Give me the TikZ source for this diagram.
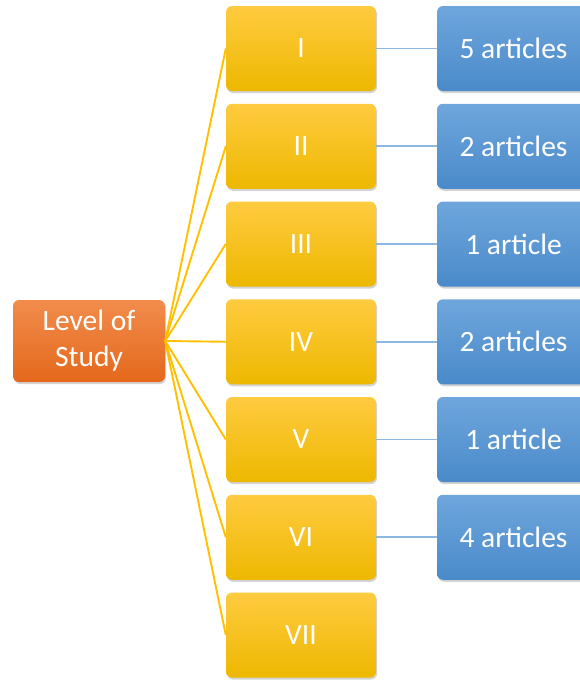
\documentclass[tikz,border=0pt]{standalone}
\usepackage{fontspec}
\setmainfont{Carlito}
\usetikzlibrary{shadows}
\definecolor{rootTop}{HTML}{F28C4C}
\definecolor{rootBot}{HTML}{E4681C}
\definecolor{lvlTop}{HTML}{FFCB40}
\definecolor{lvlBot}{HTML}{EDB800}
\definecolor{lvlLine}{HTML}{FFC000}
\definecolor{cntTop}{HTML}{6EA6DC}
\definecolor{cntBot}{HTML}{4A8ACA}
\definecolor{cntLine}{HTML}{8DB8E2}
\tikzset{
  box/.style={rounded corners=6pt, minimum width=150pt, minimum height=85pt, inner sep=0pt,
    text=white, align=center, font=\fontsize{29.5}{36}\selectfont,
    drop shadow={shadow xshift=1pt, shadow yshift=-2pt, opacity=0.35}},
  rootbox/.style={box, top color=rootTop, bottom color=rootBot, minimum width=152pt, minimum height=82pt},
  lvlbox/.style={box, top color=lvlTop, bottom color=lvlBot},
  cntbox/.style={box, top color=cntTop, bottom color=cntBot, minimum width=153pt},
  branch/.style={draw=lvlLine, line width=1.9pt},
  link/.style={draw=cntLine, line width=1.9pt}
}
\begin{document}
\begin{tikzpicture}[x=1pt, y=-1pt]
        \path[use as bounding box, clip] (0,0) rectangle (580,680);
        \node[rootbox] (root) at (89, 341) {Level of\\Study};

        \foreach \lvl [count=\i from 0] in {I,II,III,IV,V,VI,VII} {
          \node[lvlbox] (lvl\i) at (301, 48.5+97.75*\i) {\lvl};
          \draw[branch] (root.east) -- (lvl\i.west);
        }
        \foreach \cnt [count=\i from 0] in {5 articles,2 articles,1 article,2 articles,1 article,4 articles} {
          \node[cntbox] (cnt\i) at (513.5, 48.5+97.75*\i) {\cnt};
          \draw[link] (lvl\i.east) -- (cnt\i.west);
        }
      \end{tikzpicture}
\end{document}
